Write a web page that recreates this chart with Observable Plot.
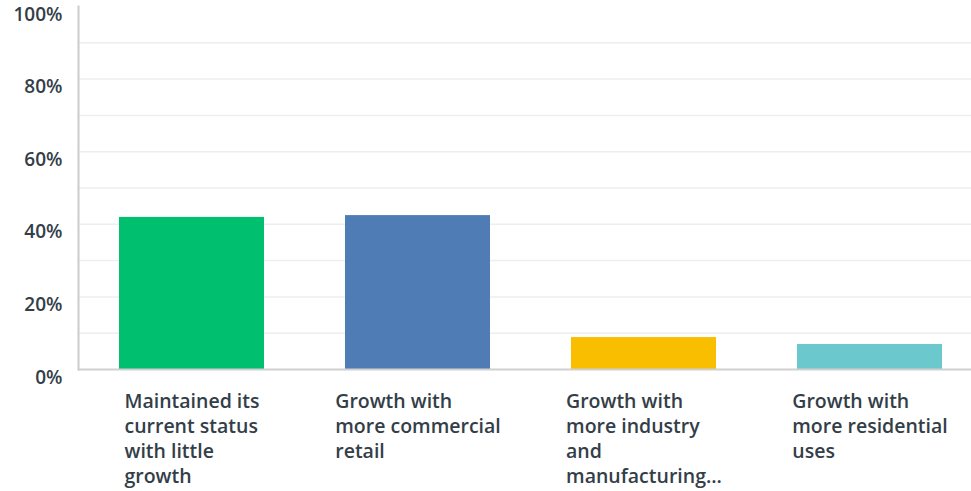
<!DOCTYPE html>
<html><head><meta charset="utf-8">
<script src="https://cdn.jsdelivr.net/npm/d3@7"></script>
<script src="https://cdn.jsdelivr.net/npm/@observablehq/plot@0.6"></script>
<style>
body{margin:0;background:#fff;}
svg{font-family:"Open Sans",sans-serif;}
</style></head>
<body><div id="chart"></div>
<script>
const categories = ["Maintained its current status with little growth","Growth with more commercial retail","Growth with more industry and manufacturing","Growth with more residential uses"];
const labels = ["Maintained its\ncurrent status\nwith little\ngrowth","Growth with\nmore commercial\nretail","Growth with\nmore industry\nand\nmanufacturing...","Growth with\nmore residential\nuses"];
const values = [41.9, 42.4, 8.8, 6.9];
const colors = ["#00bf6f","#507cb6","#f9be00","#6bc8cd"];
const yTicks = [0,20,40,60,80,100];
const gridTicks = [10,20,30,40,50,60,70,80,90];

const data = categories.map((c,i)=>({cat:c, label:labels[i], value:values[i], color:colors[i]}));

const FONT_SIZE = 19.5;
const ctx = document.createElement("canvas").getContext("2d");
ctx.font = `600 ${FONT_SIZE}px "Open Sans"`;
const blockWidth = s => Math.max(...s.split("\n").map(l => ctx.measureText(l).width));

const labelMarks = data.map(d => Plot.text([d], {
  x:"cat", y: () => 0, text:"label", textAnchor:"start", lineAnchor:"top",
  dx: -blockWidth(d.label)/2, dy: 21, fontSize: FONT_SIZE, fontWeight: 600,
  lineHeight: 25/FONT_SIZE, fill:"#333e48"
}));

const chart = Plot.plot({
  width: 971, height: 491,
  marginLeft: 78, marginRight: 0, marginTop: 6, marginBottom: 122,
  x: {domain: categories, range: [78, 983], paddingInner: 0.357, paddingOuter: 0.176, axis: null},
  y: {domain: [0,100], axis: null},
  marks: [
    Plot.ruleY(gridTicks, {stroke:"#eeeeee", strokeWidth:1.5}),
    Plot.barY(data, {x:"cat", y:"value", fill:"color"}),
    Plot.ruleY([0], {stroke:"#d0d0d0", strokeWidth:2}),
    Plot.frame({anchor:"left", stroke:"#cccccc", strokeWidth:2}),
    Plot.text(yTicks, {y: d=>d, text: d=>d+"%", frameAnchor:"left", textAnchor:"end", dx:-16, dy:8, fontSize:19, fontWeight:600, fill:"#333e48"}),
    ...labelMarks
  ]
});
document.getElementById("chart").appendChild(chart);
</script></body></html>
